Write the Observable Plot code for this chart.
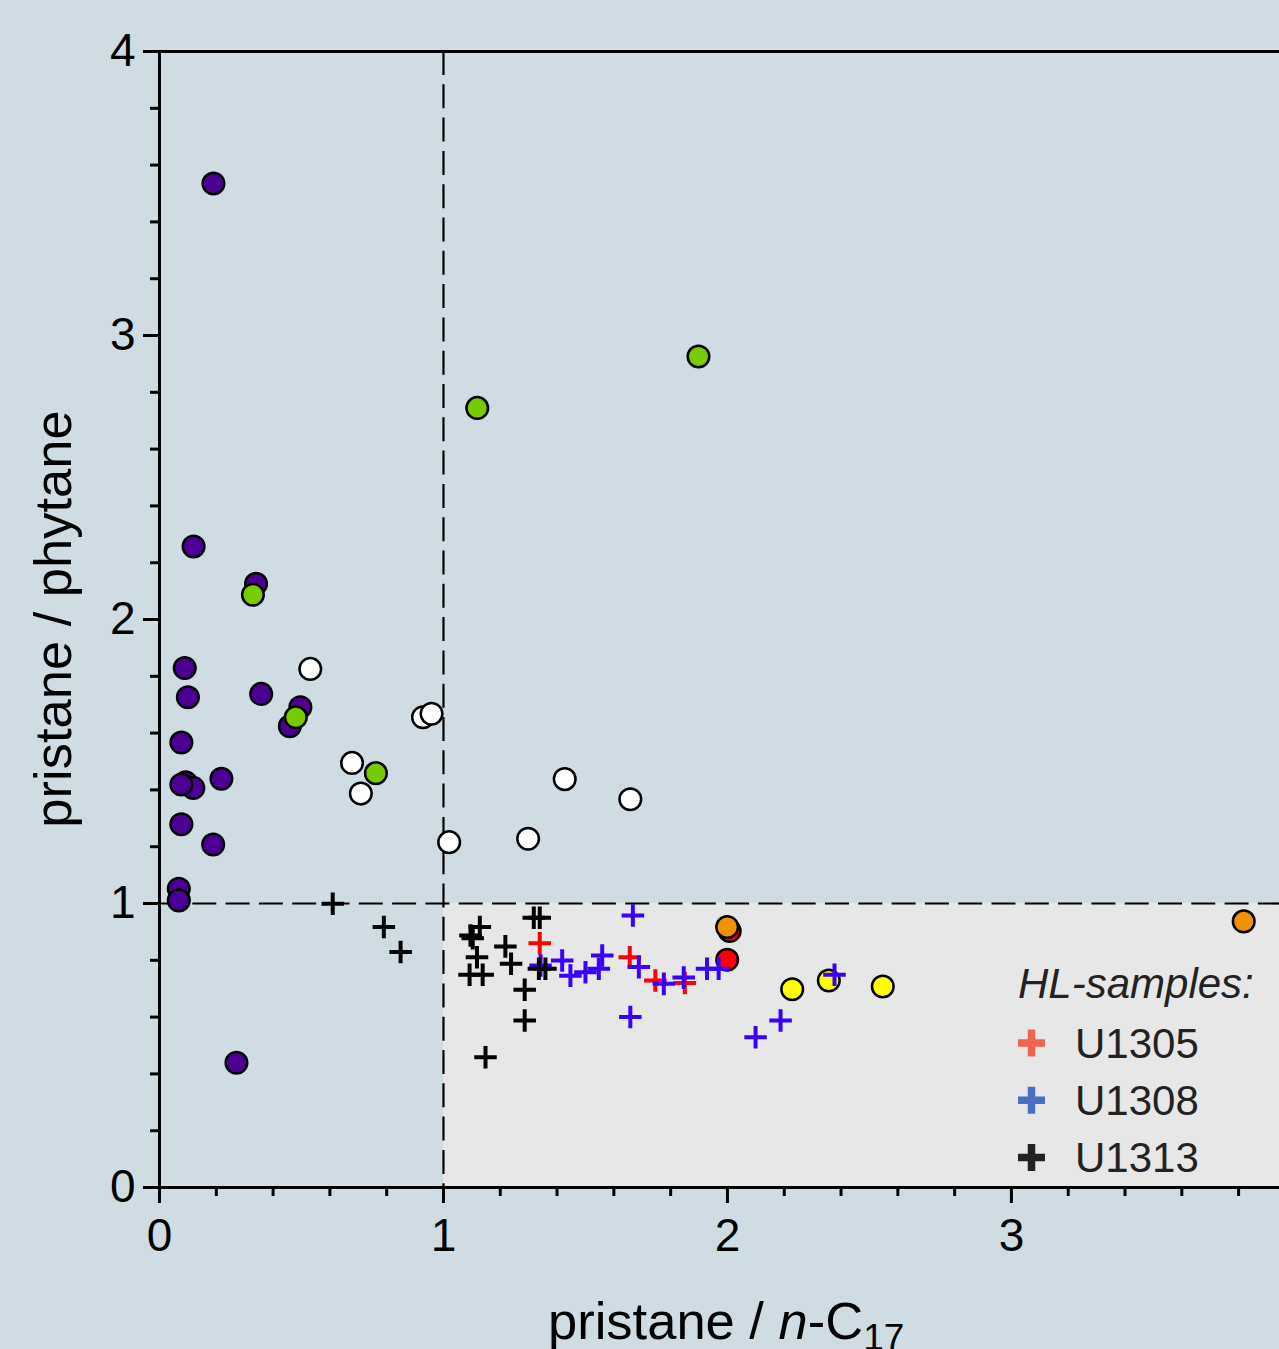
<!DOCTYPE html>
<html><head><meta charset="utf-8">
<script src="https://cdn.jsdelivr.net/npm/d3@7"></script>
<script src="https://cdn.jsdelivr.net/npm/@observablehq/plot@0.6"></script>
<style>
html,body{margin:0;padding:0;background:#cfdce4;}
#chart svg{display:block;}
</style></head><body><div id="chart"></div>
<script>
// ---- data (pristane/n-C17 = x, pristane/phytane = y) ----
const purpleX = [0.190,0.120,0.340,0.089,0.100,0.358,0.459,0.496,0.077,0.218,0.092,0.119,0.077,0.077,0.189,0.068,0.068,0.271];
const purpleY = [3.535,2.257,2.126,1.829,1.726,1.738,1.624,1.691,1.567,1.439,1.427,1.407,1.419,1.279,1.208,1.052,1.011,0.439];
const greenX = [0.329,0.480,0.762,1.119,1.898];
const greenY = [2.087,1.656,1.459,2.745,2.926];
const whiteX = [0.531,0.678,0.709,0.928,0.958,1.020,1.298,1.427,1.658];
const whiteY = [1.826,1.495,1.387,1.656,1.668,1.216,1.228,1.438,1.367];
const redX = [2.008,1.999];
const redY = [0.903,0.802];
const orangeX = [1.999,3.818];
const orangeY = [0.917,0.937];
const yellowX = [2.228,2.357,2.547];
const yellowY = [0.698,0.729,0.708];

const u1305X = [1.339,1.656,1.746,1.850];
const u1305Y = [0.860,0.811,0.729,0.720];
const u1308X = [1.667,1.342,1.418,1.447,1.500,1.559,1.547,1.688,1.658,1.776,1.846,1.928,1.969,2.099,2.187,2.377];
const u1308Y = [0.958,0.782,0.799,0.746,0.758,0.817,0.770,0.776,0.600,0.717,0.739,0.770,0.770,0.529,0.588,0.749];
const u1313X = [0.610,0.790,0.849,1.148,1.286,1.286,1.318,1.339,1.128,1.095,1.103,1.118,1.092,1.138,1.218,1.238,1.336,1.359];
const u1313Y = [0.999,0.917,0.829,0.459,0.588,0.696,0.950,0.950,0.917,0.887,0.878,0.811,0.749,0.749,0.849,0.788,0.770,0.770];

const xMajorTicks = [0,1,2,3];
const yMajorTicks = [0,1,2,3,4];
const xMinorTicks = [0.2,0.4,0.6,0.8,1.2,1.4,1.6,1.8,2.2,2.4,2.6,2.8,3.2,3.4,3.6,3.8];
const yMinorTicks = [0.2,0.4,0.6,0.8,1.2,1.4,1.6,1.8,2.2,2.4,2.6,2.8,3.2,3.4,3.6,3.8];
const xThreshold = [1];
const yThreshold = [1];
const X_MAX = 3.944;
const Y_MAX = 4;

const legendTitle = "HL-samples:";
const legendNames = ["U1305","U1308","U1313"];
const legendColors = ["#ef6352","#4a6fbf","#222222"];

// ---- build ----
const pts = (xs, ys) => xs.map((x, i) => ({x, y: ys[i]}));
const circleGroups = [
  {d: pts(purpleX, purpleY), fill: "#4c0093"},
  {d: pts(whiteX, whiteY), fill: "#ffffff"},
  {d: pts(greenX, greenY), fill: "#77cc00"},
  {d: pts(redX, redY), fill: "#ff0000"},
  {d: pts(orangeX, orangeY), fill: "#f39200"},
  {d: pts(yellowX, yellowY), fill: "#ffff00"}
];
const crossGroups = [
  {d: pts(u1305X, u1305Y), stroke: "#ff0000"},
  {d: pts(u1308X, u1308Y), stroke: "#3a00ff"},
  {d: pts(u1313X, u1313Y), stroke: "#000000"}
];
const hlBox = [{x1: xThreshold[0], x2: X_MAX, y1: 0, y2: yThreshold[0]}];
const intFmt = d3.format("d");

const marks = [
  Plot.rect(hlBox, {x1: "x1", x2: "x2", y1: "y1", y2: "y2", fill: "#e7e7e7"}),
  Plot.ruleX(xThreshold, {stroke: "#000", strokeWidth: 2.2, strokeDasharray: "24,9.3"}),
  Plot.ruleY(yThreshold, {stroke: "#000", strokeWidth: 2.2, strokeDasharray: "24,9.3"}),
  ...circleGroups.map(g => Plot.dot(g.d, {x: "x", y: "y", r: 10.8, fill: g.fill, stroke: "#000", strokeWidth: 2.5})),
  ...crossGroups.map(g => Plot.dot(g.d, {x: "x", y: "y", symbol: "plus", r: 7.3, stroke: g.stroke, strokeWidth: 4})),
  Plot.ruleX([0], {strokeWidth: 3}),
  Plot.ruleY([0], {strokeWidth: 3}),
  Plot.ruleY([Y_MAX], {strokeWidth: 3}),
  Plot.axisX(xMajorTicks, {tickSize: 16, tickPadding: 15, fontSize: 46, strokeWidth: 3, tickFormat: intFmt, label: null}),
  Plot.axisX(xMinorTicks, {tickSize: 9, tickFormat: () => "", strokeWidth: 3, label: null}),
  Plot.axisY(yMajorTicks, {tickSize: 16, tickPadding: 8, fontSize: 46, strokeWidth: 3, tickFormat: intFmt, label: null}),
  Plot.axisY(yMinorTicks, {tickSize: 9, tickFormat: () => "", strokeWidth: 3, label: null})
];

const chart = Plot.plot({
  width: 1279, height: 1349,
  marginLeft: 159, marginTop: 51, marginRight: 0, marginBottom: 162,
  style: {background: "#cfdce4", fontFamily: "'Liberation Sans', Arial, sans-serif", color: "#000", overflow: "visible"},
  x: {domain: [0, X_MAX]},
  y: {domain: [0, Y_MAX]},
  marks
});
document.getElementById("chart").appendChild(chart);

// ---- titles & legend ----
const svg = d3.select(chart);
const font = "'Liberation Sans', Arial, sans-serif";
const xt = svg.append("text").attr("x", 548).attr("y", 1339).attr("text-anchor", "start")
  .attr("font-family", font).attr("font-size", 52.5).attr("fill", "#000");
xt.append("tspan").text("pristane / ");
xt.append("tspan").attr("font-style", "italic").text("n");
xt.append("tspan").text("-C");
xt.append("tspan").attr("font-size", 37).attr("dy", 11).text("17");

svg.append("text").attr("transform", "translate(71,619) rotate(-90)")
  .attr("text-anchor", "middle").attr("font-family", font).attr("font-size", 52.5)
  .attr("fill", "#000").text("pristane / phytane");

const lg = svg.append("g").attr("font-family", font).attr("fill", "#222").attr("text-anchor", "start");
lg.append("text").attr("x", 1018).attr("y", 998).attr("font-size", 42)
  .attr("font-style", "italic").text(legendTitle);
legendNames.forEach((name, i) => {
  const cy = 1043 + i * 57.3;
  lg.append("path").attr("d", `M${1018},${cy}H${1045}M${1031.5},${cy-13.5}V${cy+13.5}`)
    .attr("stroke", legendColors[i]).attr("stroke-width", 7.5).attr("fill", "none");
  lg.append("text").attr("x", 1075).attr("y", cy + 14.5).attr("font-size", 42).text(name);
});
</script></body></html>
